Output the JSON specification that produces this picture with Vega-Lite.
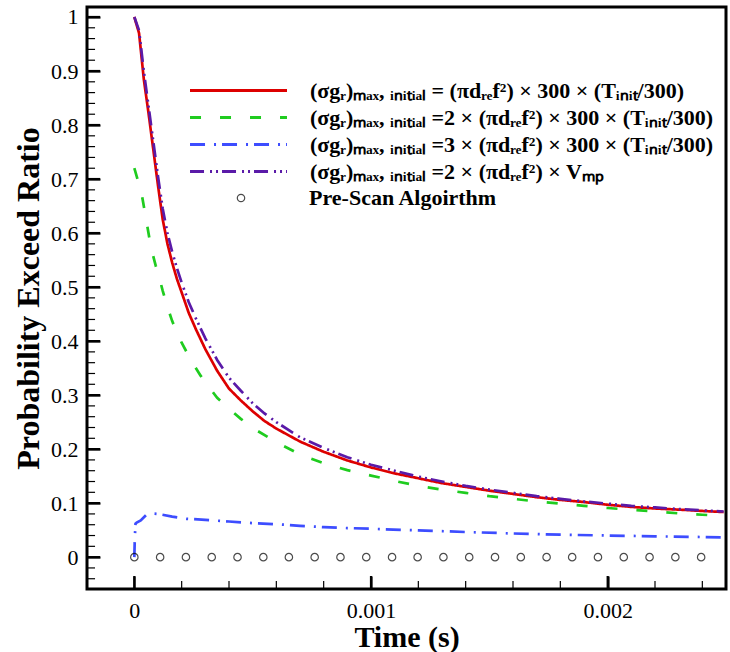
{
  "$schema": "https://vega.github.io/schema/vega-lite/v6.json",
  "width": 639,
  "height": 582,
  "autosize": "none",
  "padding": {"left": 87, "top": 7, "right": 4, "bottom": 63},
  "background": "white",
  "config": {
    "view": {"stroke": "black", "strokeWidth": 3},
    "axis": {"grid": false, "labelOverlap": false, "labelFont": "Liberation Serif", "labelFontSize": 22, "labelColor": "black", "titleFont": "Liberation Serif", "titleFontSize": 30, "titleFontWeight": "bold", "titleColor": "black", "tickColor": "black", "domainColor": "black"},
    "legend": {"labelFont": "Liberation Serif", "labelFontWeight": "bold", "labelFontSize": 22, "labelColor": "black", "labelLimit": 800}
  },
  "datasets": {
    "curves": [
      {"t": 0, "p": 1.0, "s": "A"}, {"t": 0.00002, "p": 0.97, "s": "A"}, {"t": 0.00004, "p": 0.885, "s": "A"}, {"t": 0.00006, "p": 0.822, "s": "A"}, {"t": 0.00008, "p": 0.755, "s": "A"}, {"t": 0.0001, "p": 0.688, "s": "A"}, {"t": 0.00012, "p": 0.625, "s": "A"}, {"t": 0.00014, "p": 0.58, "s": "A"}, {"t": 0.00016, "p": 0.545, "s": "A"}, {"t": 0.00018, "p": 0.515, "s": "A"}, {"t": 0.0002, "p": 0.49, "s": "A"}, {"t": 0.00023, "p": 0.452, "s": "A"}, {"t": 0.00026, "p": 0.422, "s": "A"}, {"t": 0.0003, "p": 0.385, "s": "A"}, {"t": 0.00035, "p": 0.345, "s": "A"}, {"t": 0.0004, "p": 0.312, "s": "A"}, {"t": 0.00045, "p": 0.29, "s": "A"}, {"t": 0.0005, "p": 0.27, "s": "A"}, {"t": 0.00055, "p": 0.252, "s": "A"}, {"t": 0.0006, "p": 0.238, "s": "A"}, {"t": 0.0007, "p": 0.214, "s": "A"}, {"t": 0.0008, "p": 0.195, "s": "A"}, {"t": 0.0009, "p": 0.179, "s": "A"}, {"t": 0.001, "p": 0.166, "s": "A"}, {"t": 0.0011, "p": 0.155, "s": "A"}, {"t": 0.0012, "p": 0.146, "s": "A"}, {"t": 0.0013, "p": 0.137, "s": "A"}, {"t": 0.0014, "p": 0.13, "s": "A"}, {"t": 0.0015, "p": 0.123, "s": "A"}, {"t": 0.0016, "p": 0.117, "s": "A"}, {"t": 0.0017, "p": 0.111, "s": "A"}, {"t": 0.0018, "p": 0.106, "s": "A"}, {"t": 0.0019, "p": 0.102, "s": "A"}, {"t": 0.002, "p": 0.097, "s": "A"}, {"t": 0.0021, "p": 0.093, "s": "A"}, {"t": 0.0022, "p": 0.09, "s": "A"}, {"t": 0.0023, "p": 0.088, "s": "A"}, {"t": 0.0024, "p": 0.0855, "s": "A"}, {"t": 0.00249, "p": 0.0835, "s": "A"},
      {"t": 0, "p": 0.72, "s": "B"}, {"t": 0.00001, "p": 0.705, "s": "B"}, {"t": 0.00002, "p": 0.69, "s": "B"}, {"t": 0.00003, "p": 0.675, "s": "B"}, {"t": 0.00005, "p": 0.625, "s": "B"}, {"t": 0.00007, "p": 0.574, "s": "B"}, {"t": 0.00009, "p": 0.54, "s": "B"}, {"t": 0.000105, "p": 0.518, "s": "B"}, {"t": 0.00012, "p": 0.493, "s": "B"}, {"t": 0.00014, "p": 0.463, "s": "B"}, {"t": 0.00016, "p": 0.437, "s": "B"}, {"t": 0.00018, "p": 0.416, "s": "B"}, {"t": 0.0002, "p": 0.397, "s": "B"}, {"t": 0.00024, "p": 0.364, "s": "B"}, {"t": 0.00028, "p": 0.336, "s": "B"}, {"t": 0.00031, "p": 0.318, "s": "B"}, {"t": 0.00035, "p": 0.295, "s": "B"}, {"t": 0.0004, "p": 0.275, "s": "B"}, {"t": 0.00045, "p": 0.256, "s": "B"}, {"t": 0.0005, "p": 0.239, "s": "B"}, {"t": 0.0006, "p": 0.213, "s": "B"}, {"t": 0.0007, "p": 0.19, "s": "B"}, {"t": 0.0008, "p": 0.174, "s": "B"}, {"t": 0.0009, "p": 0.161, "s": "B"}, {"t": 0.001, "p": 0.151, "s": "B"}, {"t": 0.0011, "p": 0.141, "s": "B"}, {"t": 0.0012, "p": 0.132, "s": "B"}, {"t": 0.0013, "p": 0.125, "s": "B"}, {"t": 0.0014, "p": 0.119, "s": "B"}, {"t": 0.0015, "p": 0.113, "s": "B"}, {"t": 0.0016, "p": 0.108, "s": "B"}, {"t": 0.0017, "p": 0.103, "s": "B"}, {"t": 0.0018, "p": 0.099, "s": "B"}, {"t": 0.0019, "p": 0.095, "s": "B"}, {"t": 0.002, "p": 0.091, "s": "B"}, {"t": 0.0021, "p": 0.0875, "s": "B"}, {"t": 0.0022, "p": 0.0845, "s": "B"}, {"t": 0.0023, "p": 0.081, "s": "B"}, {"t": 0.0024, "p": 0.0785, "s": "B"}, {"t": 0.00249, "p": 0.0765, "s": "B"},
      {"t": 0, "p": 0.0, "s": "C"}, {"t": 0.000002, "p": 0.035, "s": "C"}, {"t": 0.000005, "p": 0.062, "s": "C"}, {"t": 0.00001, "p": 0.064, "s": "C"}, {"t": 0.000027, "p": 0.068, "s": "C"}, {"t": 0.00005, "p": 0.078, "s": "C"}, {"t": 0.00007, "p": 0.081, "s": "C"}, {"t": 0.0001, "p": 0.08, "s": "C"}, {"t": 0.00016, "p": 0.075, "s": "C"}, {"t": 0.00022, "p": 0.071, "s": "C"}, {"t": 0.0003, "p": 0.069, "s": "C"}, {"t": 0.0004, "p": 0.066, "s": "C"}, {"t": 0.0005, "p": 0.063, "s": "C"}, {"t": 0.0006, "p": 0.061, "s": "C"}, {"t": 0.0007, "p": 0.058, "s": "C"}, {"t": 0.0008, "p": 0.0555, "s": "C"}, {"t": 0.0009, "p": 0.0538, "s": "C"}, {"t": 0.001, "p": 0.0525, "s": "C"}, {"t": 0.0012, "p": 0.0495, "s": "C"}, {"t": 0.0014, "p": 0.0465, "s": "C"}, {"t": 0.0016, "p": 0.0438, "s": "C"}, {"t": 0.0018, "p": 0.0415, "s": "C"}, {"t": 0.002, "p": 0.04, "s": "C"}, {"t": 0.0022, "p": 0.0385, "s": "C"}, {"t": 0.0024, "p": 0.0372, "s": "C"}, {"t": 0.00249, "p": 0.0365, "s": "C"},
      {"t": 0, "p": 1.0, "s": "D"}, {"t": 0.00002, "p": 0.975, "s": "D"}, {"t": 0.00004, "p": 0.9, "s": "D"}, {"t": 0.00006, "p": 0.835, "s": "D"}, {"t": 0.00008, "p": 0.77, "s": "D"}, {"t": 0.0001, "p": 0.705, "s": "D"}, {"t": 0.00012, "p": 0.645, "s": "D"}, {"t": 0.00014, "p": 0.6, "s": "D"}, {"t": 0.00016, "p": 0.565, "s": "D"}, {"t": 0.00018, "p": 0.535, "s": "D"}, {"t": 0.0002, "p": 0.508, "s": "D"}, {"t": 0.00023, "p": 0.472, "s": "D"}, {"t": 0.00026, "p": 0.442, "s": "D"}, {"t": 0.0003, "p": 0.405, "s": "D"}, {"t": 0.00035, "p": 0.365, "s": "D"}, {"t": 0.0004, "p": 0.332, "s": "D"}, {"t": 0.00045, "p": 0.308, "s": "D"}, {"t": 0.0005, "p": 0.285, "s": "D"}, {"t": 0.00055, "p": 0.266, "s": "D"}, {"t": 0.0006, "p": 0.25, "s": "D"}, {"t": 0.0007, "p": 0.222, "s": "D"}, {"t": 0.0008, "p": 0.202, "s": "D"}, {"t": 0.0009, "p": 0.185, "s": "D"}, {"t": 0.001, "p": 0.171, "s": "D"}, {"t": 0.0011, "p": 0.16, "s": "D"}, {"t": 0.0012, "p": 0.149, "s": "D"}, {"t": 0.0013, "p": 0.14, "s": "D"}, {"t": 0.0014, "p": 0.132, "s": "D"}, {"t": 0.0015, "p": 0.125, "s": "D"}, {"t": 0.0016, "p": 0.119, "s": "D"}, {"t": 0.0017, "p": 0.113, "s": "D"}, {"t": 0.0018, "p": 0.108, "s": "D"}, {"t": 0.0019, "p": 0.103, "s": "D"}, {"t": 0.002, "p": 0.099, "s": "D"}, {"t": 0.0021, "p": 0.095, "s": "D"}, {"t": 0.0022, "p": 0.092, "s": "D"}, {"t": 0.0023, "p": 0.089, "s": "D"}, {"t": 0.0024, "p": 0.0865, "s": "D"}, {"t": 0.00249, "p": 0.0845, "s": "D"}
    ],
    "prescan": [
      {"t": 0, "p": 0, "m": "Pre-Scan Algoirthm"}, {"t": 0.000109, "p": 0, "m": "Pre-Scan Algoirthm"}, {"t": 0.000218, "p": 0, "m": "Pre-Scan Algoirthm"}, {"t": 0.000327, "p": 0, "m": "Pre-Scan Algoirthm"}, {"t": 0.000436, "p": 0, "m": "Pre-Scan Algoirthm"}, {"t": 0.000545, "p": 0, "m": "Pre-Scan Algoirthm"}, {"t": 0.000653, "p": 0, "m": "Pre-Scan Algoirthm"}, {"t": 0.000762, "p": 0, "m": "Pre-Scan Algoirthm"}, {"t": 0.000871, "p": 0, "m": "Pre-Scan Algoirthm"}, {"t": 0.00098, "p": 0, "m": "Pre-Scan Algoirthm"}, {"t": 0.001089, "p": 0, "m": "Pre-Scan Algoirthm"}, {"t": 0.001197, "p": 0, "m": "Pre-Scan Algoirthm"}, {"t": 0.001306, "p": 0, "m": "Pre-Scan Algoirthm"}, {"t": 0.001415, "p": 0, "m": "Pre-Scan Algoirthm"}, {"t": 0.001524, "p": 0, "m": "Pre-Scan Algoirthm"}, {"t": 0.001633, "p": 0, "m": "Pre-Scan Algoirthm"}, {"t": 0.001742, "p": 0, "m": "Pre-Scan Algoirthm"}, {"t": 0.00185, "p": 0, "m": "Pre-Scan Algoirthm"}, {"t": 0.001959, "p": 0, "m": "Pre-Scan Algoirthm"}, {"t": 0.002068, "p": 0, "m": "Pre-Scan Algoirthm"}, {"t": 0.002177, "p": 0, "m": "Pre-Scan Algoirthm"}, {"t": 0.002286, "p": 0, "m": "Pre-Scan Algoirthm"}, {"t": 0.002395, "p": 0, "m": "Pre-Scan Algoirthm"}
    ],
    "xticks": [
      {"v": 0, "kind": "major"}, {"v": 0.001, "kind": "major"}, {"v": 0.002, "kind": "major"},
      {"v": 0.0002, "kind": "minor"}, {"v": 0.0004, "kind": "minor"}, {"v": 0.0006, "kind": "minor"}, {"v": 0.0008, "kind": "minor"}, {"v": 0.0012, "kind": "minor"}, {"v": 0.0014, "kind": "minor"}, {"v": 0.0016, "kind": "minor"}, {"v": 0.0018, "kind": "minor"}, {"v": 0.0022, "kind": "minor"}, {"v": 0.0024, "kind": "minor"}
    ],
    "yticks": [
      {"v": 0, "kind": "major"}, {"v": 0.1, "kind": "major"}, {"v": 0.2, "kind": "major"}, {"v": 0.3, "kind": "major"}, {"v": 0.4, "kind": "major"}, {"v": 0.5, "kind": "major"}, {"v": 0.6, "kind": "major"}, {"v": 0.7, "kind": "major"}, {"v": 0.8, "kind": "major"}, {"v": 0.9, "kind": "major"}, {"v": 1, "kind": "major"},
      {"v": -0.04, "kind": "minor"}, {"v": -0.02, "kind": "minor"}, {"v": 0.02, "kind": "minor"}, {"v": 0.04, "kind": "minor"}, {"v": 0.06, "kind": "minor"}, {"v": 0.08, "kind": "minor"}, {"v": 0.12, "kind": "minor"}, {"v": 0.14, "kind": "minor"}, {"v": 0.16, "kind": "minor"}, {"v": 0.18, "kind": "minor"}, {"v": 0.22, "kind": "minor"}, {"v": 0.24, "kind": "minor"}, {"v": 0.26, "kind": "minor"}, {"v": 0.28, "kind": "minor"}, {"v": 0.32, "kind": "minor"}, {"v": 0.34, "kind": "minor"}, {"v": 0.36, "kind": "minor"}, {"v": 0.38, "kind": "minor"}, {"v": 0.42, "kind": "minor"}, {"v": 0.44, "kind": "minor"}, {"v": 0.46, "kind": "minor"}, {"v": 0.48, "kind": "minor"}, {"v": 0.52, "kind": "minor"}, {"v": 0.54, "kind": "minor"}, {"v": 0.56, "kind": "minor"}, {"v": 0.58, "kind": "minor"}, {"v": 0.62, "kind": "minor"}, {"v": 0.64, "kind": "minor"}, {"v": 0.66, "kind": "minor"}, {"v": 0.68, "kind": "minor"}, {"v": 0.72, "kind": "minor"}, {"v": 0.74, "kind": "minor"}, {"v": 0.76, "kind": "minor"}, {"v": 0.78, "kind": "minor"}, {"v": 0.82, "kind": "minor"}, {"v": 0.84, "kind": "minor"}, {"v": 0.86, "kind": "minor"}, {"v": 0.88, "kind": "minor"}, {"v": 0.92, "kind": "minor"}, {"v": 0.94, "kind": "minor"}, {"v": 0.96, "kind": "minor"}, {"v": 0.98, "kind": "minor"}
    ]
  },
  "layer": [
    {
      "data": {"name": "curves"},
      "mark": {"type": "line", "strokeWidth": 2.7},
      "encoding": {
        "x": {"field": "t", "type": "quantitative", "title": "Time (s)", "scale": {"domain": [-0.0002, 0.0025], "nice": false, "zero": false},
              "axis": {"offset": -13, "domainOpacity": 0, "labelOverlap": false,
                       "values": [0, 0.001, 0.002], "format": "~g",
                       "ticks": true, "tickSize": 13, "tickWidth": 2.2,
                       "labelPadding": 11, "title": "Time (s)", "titlePadding": 1}},
        "y": {"field": "p", "type": "quantitative", "title": "Probability Exceed Ratio", "scale": {"domain": [-0.059, 1.0185], "nice": false, "zero": false},
              "axis": {"offset": -13, "domainOpacity": 0, "labelOverlap": false,
                       "values": [0, 0.1, 0.2, 0.3, 0.4, 0.5, 0.6, 0.7, 0.8, 0.9, 1], "format": "~g",
                       "ticks": true, "tickSize": 13, "tickWidth": 2.2,
                       "labelPadding": 9, "title": "Probability Exceed Ratio", "titleFontSize": 32, "titlePadding": 5}},
        "color": {"field": "s", "type": "nominal", "scale": {"domain": ["A", "B", "C", "D"], "range": ["#dd0000", "#1fcc1f", "#3d4dff", "#5a1aa8"]},
                  "legend": {"title": null, "orient": "none", "legendX": 140, "legendY": 72, "symbolType": "M-5,0H5", "symbolSize": 376, "symbolStrokeWidth": 3, "labelOffset": 60, "rowPadding": 4,
                             "labelExpr": "{'A': '(σgᵣ)ₘₐₓ, ᵢₙᵢₜᵢₐₗ = (πdᵣₑf²) × 300 × (Tᵢₙᵢₜ/300)', 'B': '(σgᵣ)ₘₐₓ, ᵢₙᵢₜᵢₐₗ =2 × (πdᵣₑf²) × 300 × (Tᵢₙᵢₜ/300)', 'C': '(σgᵣ)ₘₐₓ, ᵢₙᵢₜᵢₐₗ =3 × (πdᵣₑf²) × 300 × (Tᵢₙᵢₜ/300)', 'D': '(σgᵣ)ₘₐₓ, ᵢₙᵢₜᵢₐₗ =2 × (πdᵣₑf²) × Vₘₚ'}[datum.label]"}},
        "strokeDash": {"field": "s", "type": "nominal", "scale": {"domain": ["A", "B", "C", "D"], "range": [[1, 0], [11, 19], [15, 9, 2, 6], [14, 6, 2, 4, 2, 4]]}, "legend": null}
      }
    },
    {
      "data": {"name": "prescan"},
      "mark": {"type": "point", "filled": false, "stroke": "black", "strokeWidth": 1.2, "size": 55},
      "encoding": {
        "x": {"field": "t", "type": "quantitative", "title": "Time (s)"},
        "y": {"field": "p", "type": "quantitative", "title": "Probability Exceed Ratio"},
        "shape": {"field": "m", "type": "nominal", "scale": {"range": ["circle"]},
                  "legend": {"title": null, "orient": "none", "legendX": 143, "legendY": 180, "symbolStrokeColor": "black", "symbolFillColor": "transparent", "symbolSize": 55, "symbolStrokeWidth": 1.2, "labelOffset": 57}}
      }
    },
    {
      "data": {"name": "xticks"},
      "transform": [{"filter": "datum.kind === 'major'"}],
      "mark": {"type": "rule", "color": "black", "strokeWidth": 2.2},
      "encoding": {
        "x": {"field": "v", "type": "quantitative", "title": "Time (s)"},
        "y": {"datum": -0.059, "type": "quantitative", "title": "Probability Exceed Ratio"},
        "y2": {"datum": -0.0349}
      }
    },
    {
      "data": {"name": "xticks"},
      "transform": [{"filter": "datum.kind === 'minor'"}],
      "mark": {"type": "rule", "color": "black", "strokeWidth": 1.2},
      "encoding": {
        "x": {"field": "v", "type": "quantitative", "title": "Time (s)"},
        "y": {"datum": -0.059, "type": "quantitative", "title": "Probability Exceed Ratio"},
        "y2": {"datum": -0.0442}
      }
    },
    {
      "data": {"name": "yticks"},
      "transform": [{"filter": "datum.kind === 'major'"}],
      "mark": {"type": "rule", "color": "black", "strokeWidth": 2.2},
      "encoding": {
        "y": {"field": "v", "type": "quantitative", "title": "Probability Exceed Ratio"},
        "x": {"datum": -0.0002, "type": "quantitative", "title": "Time (s)"},
        "x2": {"datum": -0.000145}
      }
    },
    {
      "data": {"name": "yticks"},
      "transform": [{"filter": "datum.kind === 'minor'"}],
      "mark": {"type": "rule", "color": "black", "strokeWidth": 1.2},
      "encoding": {
        "y": {"field": "v", "type": "quantitative", "title": "Probability Exceed Ratio"},
        "x": {"datum": -0.0002, "type": "quantitative", "title": "Time (s)"},
        "x2": {"datum": -0.000166}
      }
    }
  ]
}
